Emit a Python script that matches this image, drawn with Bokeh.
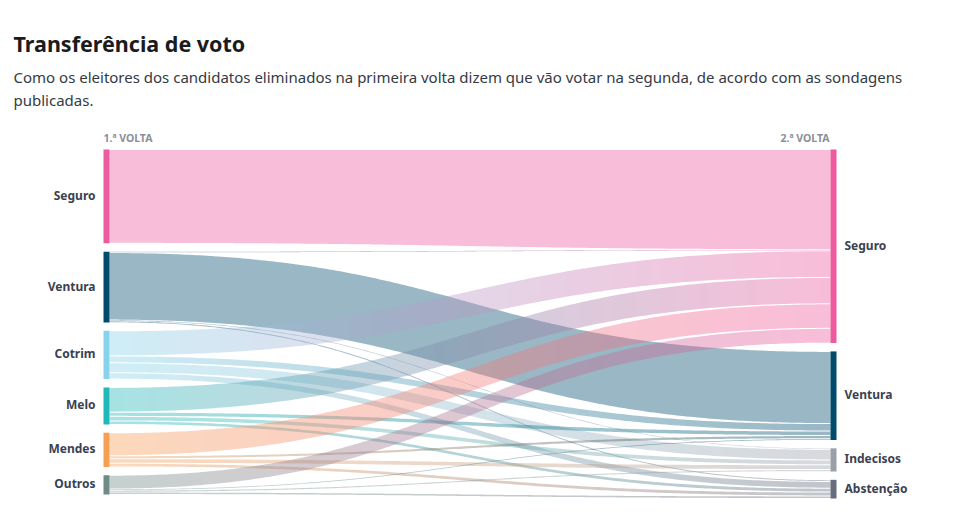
import numpy as np
from bokeh.plotting import figure
from bokeh.models import Range1d
from bokeh.embed import file_html
from bokeh.resources import INLINE
from bokeh.core.properties import value

# ---------------- data ----------------
title = "Transferência de voto"
subtitle_lines = [
    "Como os eleitores dos candidatos eliminados na primeira volta dizem que vão votar na segunda, de acordo com as sondagens",
    "publicadas.",
]
header_left = "1.ª VOLTA"
header_right = "2.ª VOLTA"

first_round = ["Seguro", "Ventura", "Cotrim", "Melo", "Mendes", "Outros"]
second_round = ["Seguro", "Ventura", "Indecisos", "Abstenção"]

# votes (% of first-round voters) from each first-round candidate to each second-round option
to_seguro = [31.1, 0.3, 8.3, 8.2, 7.6, 4.6]
to_ventura = [0.0, 22.4, 2.3, 1.4, 1.0, 0.4]
to_indecisos = [0.0, 0.3, 3.3, 1.5, 1.5, 0.6]
to_abstencao = [0.0, 0.5, 2.1, 1.2, 1.2, 0.8]

first_colors = ["#ee5a9e", "#004b6b", "#87d3ea", "#22b8b8", "#f79e55", "#6e8c85"]
second_colors = ["#ee5a9e", "#004b6b", "#9b9fa9", "#666d7c"]

# ---------------- layout ----------------
W, H = 962, 500
flows = np.array([to_seguro, to_ventura, to_indecisos, to_abstencao]).T  # (src, tgt)
src_tot = flows.sum(axis=1)
tgt_tot = flows.sum(axis=0)

TOP = 149.0
L_BOT = 494.0
R_BOT = 498.0
PAD = 8.3
XL0, XL1 = 103.0, 109.0
XR0, XR1 = 830.0, 836.0

kl = (L_BOT - TOP - PAD * (len(first_round) - 1)) / src_tot.sum()
kr = (R_BOT - TOP - PAD * (len(second_round) - 1)) / tgt_tot.sum()

src_y0 = []
y = TOP
for v in src_tot:
    src_y0.append(y)
    y += v * kl + PAD
tgt_y0 = []
y = TOP
for v in tgt_tot:
    tgt_y0.append(y)
    y += v * kr + PAD


def hex2rgb(h):
    h = h.lstrip("#")
    return np.array([int(h[i:i + 2], 16) for i in (0, 2, 4)], dtype=float)


def rgb2hex(c):
    c = np.clip(np.round(c), 0, 255).astype(int)
    return "#%02x%02x%02x" % tuple(c)


p = figure(width=W, height=H, output_backend="svg", toolbar_location=None,
           x_range=Range1d(0, W), y_range=Range1d(H, 0),
           min_border=0, outline_line_color=None, tools="")
p.axis.visible = False
p.grid.visible = False
p.background_fill_color = "white"
p.border_fill_color = "white"

links = []
for s in range(len(first_round)):
    for t in range(len(second_round)):
        v = flows[s, t]
        if v <= 0:
            continue
        links.append([s, t, v, 0.0, 0.0])
for s in range(len(first_round)):
    y = src_y0[s]
    for L in links:
        if L[0] == s:
            L[3] = y
            y += L[2] * kl
for t in range(len(second_round)):
    y = tgt_y0[t]
    for L in links:
        if L[1] == t:
            L[4] = y
            y += L[2] * kr

# bezier parametrisation: x(t) = x0 + D*(1.5 t(1-t) + t^3)
D = XR0 - XL1
tf = np.linspace(0, 1, 4001)
xf = XL1 + D * (1.5 * tf * (1 - tf) + tf ** 3)
# slice boundaries
STEP = 12
inner = list(np.arange(XL1 + STEP, XR0 - 2, STEP) + 0.5)
bounds = [XL1] + inner + [XR0]
SUB = 3


def edge(y_src, y_tgt, tt):
    w0 = (1 - tt) ** 3 + 3 * (1 - tt) ** 2 * tt
    return y_src * w0 + y_tgt * (1 - w0)


xs_all, ys_all, cols = [], [], []
for s, t, v, sy, ty in links:
    sw, tw = v * kl, v * kr
    gs = min(0.5, sw * 0.2)
    gt = min(0.5, tw * 0.2)
    c0, c1 = hex2rgb(first_colors[s]), hex2rgb(second_colors[t])
    same = first_colors[s] == second_colors[t]
    segs = [(bounds[0], bounds[-1])] if same else list(zip(bounds[:-1], bounds[1:]))
    for xa, xb in segs:
        n = 200 if same else SUB
        xx = np.linspace(xa, xb, n + 1)
        tt = np.interp(xx, xf, tf)
        top = edge(sy + gs, ty + gt, tt)
        bot = edge(sy + sw - gs, ty + tw - gt, tt)
        xs_all.append(list(xx) + list(xx[::-1]))
        ys_all.append(list(top) + list(bot[::-1]))
        f = ((xa + xb) / 2 - XL1) / D
        cols.append(first_colors[s] if same else rgb2hex(c0 * (1 - f) + c1 * f))

p.patches(xs_all, ys_all, fill_color=cols, fill_alpha=0.4, line_color=None)

# nodes
p.quad(left=[XL0] * len(first_round), right=[XL1] * len(first_round),
       top=src_y0, bottom=[a + v * kl for a, v in zip(src_y0, src_tot)],
       fill_color=first_colors, line_color=None)
p.quad(left=[XR0] * len(second_round), right=[XR1] * len(second_round),
       top=tgt_y0, bottom=[a + v * kr for a, v in zip(tgt_y0, tgt_tot)],
       fill_color=second_colors, line_color=None)

FONT = value("Noto Sans")
LABEL_COLOR = "#3a4150"
p.text(x=[95] * len(first_round),
       y=[a + v * kl / 2 - 1 for a, v in zip(src_y0, src_tot)],
       text=first_round, text_font=FONT, text_font_size="12px", text_font_style="bold",
       text_color=LABEL_COLOR, text_align="right", text_baseline="middle")
p.text(x=[844] * len(second_round),
       y=[a + v * kr / 2 - 1 for a, v in zip(tgt_y0, tgt_tot)],
       text=second_round, text_font=FONT, text_font_size="12px", text_font_style="bold",
       text_color=LABEL_COLOR, text_align="left", text_baseline="middle")

# column headers
p.text(x=[XL0], y=[137], text=[header_left], text_font=FONT, text_font_size="10.5px",
       text_font_style="bold", text_color="#8a8f99", text_align="left", text_baseline="middle")
p.text(x=[XR0 - 1], y=[137], text=[header_right], text_font=FONT, text_font_size="10.5px",
       text_font_style="bold", text_color="#8a8f99", text_align="right", text_baseline="middle")

# title and subtitle
p.text(x=[13], y=[43], text=[title], text_font=FONT, text_font_size="21.5px",
       text_font_style="bold", text_color="#1b1b1b", text_align="left", text_baseline="alphabetic")
p.text(x=[13, 13], y=[76, 99.5], text=subtitle_lines, text_font=FONT, text_font_size="15px",
       text_color="#333a45", text_align="left", text_baseline="alphabetic")

open("out.html", "w").write(file_html(p, INLINE))
